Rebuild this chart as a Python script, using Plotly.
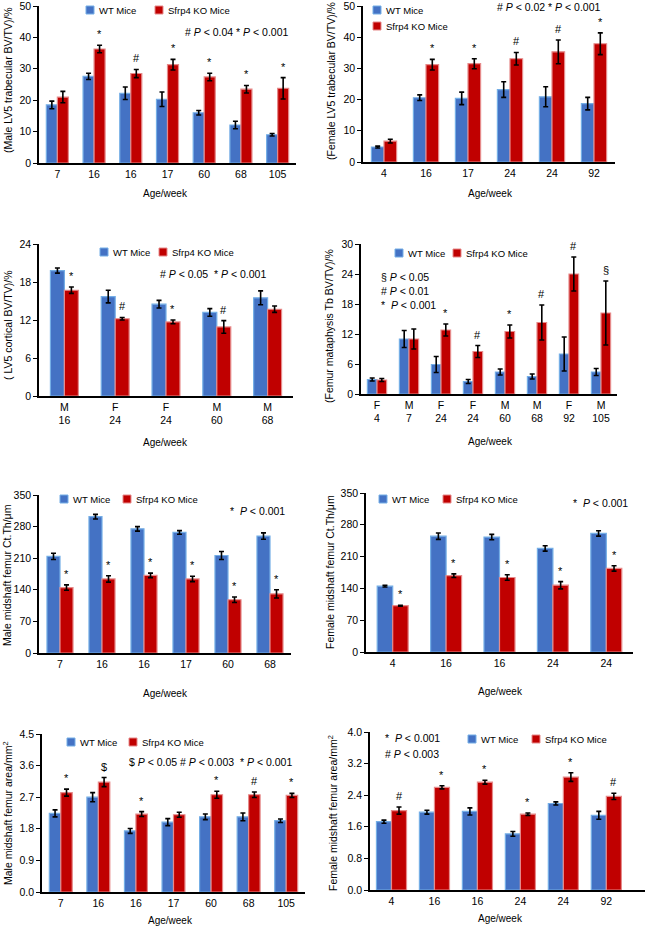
import plotly.graph_objects as go

W, H = 645, 928
FONT = "Liberation Sans, Arial, Helvetica, sans-serif"
WT_COLOR, WT_EDGE = "#4472C4", "#74AEE6"
KO_COLOR, KO_EDGE = "#C00000", "#E68A8A"
WT_NAME, KO_NAME = "WT Mice", "Sfrp4 KO Mice"

# ---------------- data ----------------
# A: male LV5 trabecular BV/TV
a_ages = ["7", "16", "16", "17", "60", "68", "105"]
a_wt = [18.5, 27.6, 22.2, 20.3, 16.0, 12.1, 9.0]
a_wt_err = [1.2, 1.0, 2.0, 2.3, 0.7, 1.2, 0.4]
a_ko = [21.0, 36.3, 28.5, 31.3, 27.4, 23.5, 23.8]
a_ko_err = [1.8, 1.2, 1.3, 1.7, 1.2, 1.2, 3.4]
a_sig = ["", "*", "#", "*", "*", "*", "*"]

# B: female LV5 trabecular BV/TV
b_ages = ["4", "16", "17", "24", "24", "92"]
b_wt = [4.8, 20.6, 20.4, 23.2, 20.9, 18.7]
b_wt_err = [0.3, 0.9, 2.0, 2.5, 3.2, 2.0]
b_ko = [6.7, 31.2, 31.5, 33.1, 35.3, 37.9]
b_ko_err = [0.6, 1.7, 1.6, 2.0, 3.8, 3.5]
b_sig = ["", "*", "*", "#", "#", "*"]

# C: LV5 cortical BV/TV
c_sex = ["M", "F", "F", "M", "M"]
c_ages = ["16", "24", "24", "60", "68"]
c_wt = [19.8, 15.7, 14.5, 13.2, 15.5]
c_wt_err = [0.4, 1.0, 0.6, 0.6, 1.1]
c_ko = [16.7, 12.2, 11.7, 10.9, 13.7]
c_ko_err = [0.5, 0.2, 0.3, 1.0, 0.5]
c_sig = ["*", "#", "*", "#", ""]

# D: femur metaphysis Tb BV/TV
d_sex = ["F", "M", "F", "F", "M", "M", "F", "M"]
d_ages = ["4", "7", "24", "24", "60", "68", "92", "105"]
d_wt = [2.9, 11.0, 5.9, 2.5, 4.4, 3.5, 8.0, 4.4]
d_wt_err = [0.3, 1.7, 1.6, 0.4, 0.6, 0.5, 3.4, 0.7]
d_ko = [2.8, 11.0, 12.8, 8.5, 12.5, 14.3, 24.0, 16.2]
d_ko_err = [0.3, 2.0, 1.2, 1.2, 1.3, 3.5, 3.4, 6.4]
d_sig = ["", "", "*", "#", "*", "#", "#", "§"]

# E: male midshaft femur Ct.Th
e_ages = ["7", "16", "16", "17", "60", "68"]
e_wt = [214, 302, 275, 267, 216, 259]
e_wt_err = [7, 5, 5, 4, 9, 7]
e_ko = [145, 164, 172, 164, 118, 131]
e_ko_err = [6, 7, 5, 6, 6, 9]
e_sig = ["*", "*", "*", "*", "*", "*"]

# F: female midshaft femur Ct.Th
f_ages = ["4", "16", "16", "24", "24"]
f_wt = [145, 255, 253, 228, 261]
f_wt_err = [2, 7, 6, 6, 6]
f_ko = [102, 168, 164, 147, 184]
f_ko_err = [1, 4, 6, 8, 6]
f_sig = ["*", "*", "*", "*", "*"]

# G: male midshaft femur area
g_ages = ["7", "16", "16", "17", "60", "68", "105"]
g_wt = [2.24, 2.70, 1.74, 1.99, 2.14, 2.14, 2.03]
g_wt_err = [0.10, 0.13, 0.07, 0.10, 0.08, 0.11, 0.05]
g_ko = [2.83, 3.13, 2.22, 2.20, 2.77, 2.77, 2.75]
g_ko_err = [0.10, 0.13, 0.07, 0.07, 0.10, 0.08, 0.06]
g_sig = ["*", "$", "*", "", "*", "#", "*"]

# H: female midshaft femur area
h_ages = ["4", "16", "16", "24", "24", "92"]
h_wt = [1.73, 1.97, 1.99, 1.42, 2.19, 1.89]
h_wt_err = [0.04, 0.05, 0.09, 0.06, 0.04, 0.10]
h_ko = [2.01, 2.60, 2.73, 1.92, 2.86, 2.37]
h_ko_err = [0.09, 0.04, 0.05, 0.03, 0.11, 0.08]
h_sig = ["#", "*", "*", "*", "*", "#"]

# ---------------- layout configs (pixel positions) ----------------
panels = [
    dict(ages=a_ages, sex=None, wt=a_wt, wte=a_wt_err, ko=a_ko, koe=a_ko_err, sig=a_sig,
         ytitle="(Male LV5 trabecular BV/TV)/%", yr=[0, 50], dt=10, fmt="",
         box=(39, 296, 6, 163), xpad=0, bw=0.6, yt=(8, 80), xt=(165, 193),
         notes=[("# <i>P</i> < 0.04 * <i>P</i> < 0.001", 237, 32, "center")],
         leg=[(90, 10), (159, 10)]),
    dict(ages=b_ages, sex=None, wt=b_wt, wte=b_wt_err, ko=b_ko, koe=b_ko_err, sig=b_sig,
         ytitle="(Female LV5 trabecular BV/TV)/%", yr=[0, 50], dt=10, fmt="",
         box=(363, 615, 6, 162), xpad=0, bw=0.6, yt=(331, 81), xt=(490, 193),
         notes=[("# <i>P</i> < 0.02 * <i>P</i> < 0.001", 549, 7, "center")],
         leg=[(377, 10), (377, 26)]),
    dict(ages=c_ages, sex=c_sex, wt=c_wt, wte=c_wt_err, ko=c_ko, koe=c_ko_err, sig=c_sig,
         ytitle="( LV5 cortical BV/TV)/%", yr=[0, 24], dt=6, fmt="",
         box=(39, 293, 244, 396), xpad=0, bw=0.55, yt=(8, 325), xt=(165, 443),
         notes=[("# <i>P</i> < 0.05  * <i>P</i> < 0.001", 213, 274, "center")],
         leg=[(104, 252), (163, 252)]),
    dict(ages=d_ages, sex=d_sex, wt=d_wt, wte=d_wt_err, ko=d_ko, koe=d_ko_err, sig=d_sig,
         ytitle="(Femur mataphysis Tb BV/TV)/%", yr=[0, 30], dt=6, fmt="",
         box=(361, 617, 244, 394), xpad=0, bw=0.6, yt=(329, 326), xt=(490, 441),
         notes=[("§ <i>P</i> < 0.05", 379, 277, "left"),
                ("# <i>P</i> < 0.01", 379, 291, "left"),
                ("*  <i>P</i> < 0.001", 379, 305, "left")],
         leg=[(399, 253), (457, 253)]),
    dict(ages=e_ages, sex=None, wt=e_wt, wte=e_wt_err, ko=e_ko, koe=e_ko_err, sig=e_sig,
         ytitle="Male midshaft femur Ct.Th/μm", yr=[0, 350], dt=70, fmt="",
         box=(39, 291, 495, 653), xpad=0, bw=0.62, yt=(7, 575), xt=(165, 693),
         notes=[("*  <i>P</i> < 0.001", 257, 511, "center")],
         leg=[(64, 499), (127, 499)]),
    dict(ages=f_ages, sex=None, wt=f_wt, wte=f_wt_err, ko=f_ko, koe=f_ko_err, sig=f_sig,
         ytitle="Female midshaft femur Ct.Th/μm", yr=[0, 350], dt=70, fmt="",
         box=(366, 633, 493, 652), xpad=0, bw=0.58, yt=(330, 572), xt=(500, 691),
         notes=[("*  <i>P</i> < 0.001", 600, 503, "center")],
         leg=[(383, 499), (447, 499)]),
    dict(ages=g_ages, sex=None, wt=g_wt, wte=g_wt_err, ko=g_ko, koe=g_ko_err, sig=g_sig,
         ytitle="Male midshaft femur area/mm<sup>2</sup>", yr=[0, 4.5], dt=0.9, fmt=".1f",
         box=(42, 305, 734, 892), xpad=0, bw=0.61, yt=(7, 813), xt=(170, 920),
         notes=[("$ <i>P</i> < 0.05 # <i>P</i> < 0.003  * <i>P</i> < 0.001", 210, 762, "center")],
         leg=[(71, 742), (133, 742)]),
    dict(ages=h_ages, sex=None, wt=h_wt, wte=h_wt_err, ko=h_ko, koe=h_ko_err, sig=h_sig,
         ytitle="Female midshaft femur area/mm<sup>2</sup>", yr=[0, 4.0], dt=0.8, fmt=".1f",
         box=(370, 645, 732, 890), xpad=0.4, bw=0.7, yt=(332, 813), xt=(500, 918),
         notes=[("*  <i>P</i> < 0.001", 383, 738, "left"),
                ("# <i>P</i> < 0.003", 383, 754, "left")],
         leg=[(472, 739), (536, 739)]),
]


def px(x):
    return x / W


def py(y):
    return 1 - y / H


fig = go.Figure()
annotations = []
shapes = []
layout = {}

for k, p in enumerate(panels, start=1):
    s = "" if k == 1 else str(k)
    n = len(p["ages"])
    xs = list(range(n))
    half = p["bw"] / 2
    fig.add_trace(go.Bar(
        x=xs, y=p["wt"], name=WT_NAME, showlegend=False, width=half, offset=-half,
        marker=dict(color=WT_COLOR, line=dict(color=WT_EDGE, width=1.2)),
        error_y=dict(type="data", array=p["wte"], color="black", thickness=1.6, width=2.5),
        xaxis="x" + s, yaxis="y" + s))
    fig.add_trace(go.Bar(
        x=xs, y=p["ko"], name=KO_NAME, showlegend=False, width=half, offset=0,
        marker=dict(color=KO_COLOR, line=dict(color=KO_EDGE, width=1.2)),
        error_y=dict(type="data", array=p["koe"], color="black", thickness=1.6, width=2.5),
        xaxis="x" + s, yaxis="y" + s))

    x0, x1, y0, y1 = p["box"]
    if p["sex"]:
        ticktext = [f"{a}<br>{b}" for a, b in zip(p["sex"], p["ages"])]
    else:
        ticktext = p["ages"]
    layout["xaxis" + s] = dict(
        domain=[px(x0), px(x1)], anchor="y" + s, range=[-0.5, n - 0.5 + p["xpad"]],
        tickmode="array", tickvals=xs, ticktext=ticktext, automargin=False,
        ticklabeloverflow="allow",
        showline=True, linecolor="black", linewidth=2, ticks="",
        showgrid=False, zeroline=False, fixedrange=True,
        tickfont=dict(size=10.5, color="black", family=FONT))
    layout["yaxis" + s] = dict(
        domain=[py(y1), py(y0)], anchor="x" + s, range=p["yr"], dtick=p["dt"], tick0=0,
        tickformat=p["fmt"], showline=True, linecolor="black", linewidth=1.6,
        ticks="outside", ticklen=4, tickwidth=1.2, tickcolor="black", automargin=False,
        ticklabeloverflow="allow",
        showgrid=False, zeroline=False, fixedrange=True,
        tickfont=dict(size=10.5, color="black", family=FONT))

    # significance marks above KO bars
    for i, m in enumerate(p["sig"]):
        if m:
            annotations.append(dict(
                x=i + half / 2, y=p["ko"][i] + p["koe"][i], xref="x" + s, yref="y" + s,
                text=m, showarrow=False, yanchor="middle", yshift=11,
                font=dict(size=11, color="black", family=FONT)))

    # y title
    annotations.append(dict(
        x=px(p["yt"][0]), y=py(p["yt"][1]), xref="paper", yref="paper",
        text=p["ytitle"], textangle=-90, showarrow=False,
        xanchor="center", yanchor="middle",
        font=dict(size=10.5, color="black", family=FONT)))
    # x title
    annotations.append(dict(
        x=px(p["xt"][0]), y=py(p["xt"][1]), xref="paper", yref="paper",
        text="Age/week", showarrow=False, xanchor="center", yanchor="middle",
        font=dict(size=10, color="black", family=FONT)))
    # p-value notes
    for txt, nx, ny, anc in p["notes"]:
        annotations.append(dict(
            x=px(nx), y=py(ny), xref="paper", yref="paper", text=txt,
            showarrow=False, xanchor=anc, yanchor="middle",
            font=dict(size=10.5, color="black", family=FONT)))
    # legend
    for (cx, cy), name, col, edge in zip(p["leg"], [WT_NAME, KO_NAME],
                                         [WT_COLOR, KO_COLOR], [WT_EDGE, KO_EDGE]):
        shapes.append(dict(
            type="rect", xref="paper", yref="paper",
            x0=px(cx - 4), x1=px(cx + 4), y0=py(cy + 4), y1=py(cy - 4),
            fillcolor=col, line=dict(color=edge, width=1)))
        annotations.append(dict(
            x=px(cx + 7), y=py(cy), xref="paper", yref="paper", text=name,
            showarrow=False, xanchor="left", yanchor="middle",
            font=dict(size=9.5, color="black", family=FONT)))

fig.update_layout(
    width=W, height=H, margin=dict(l=0, r=0, t=0, b=0, autoexpand=False),
    paper_bgcolor="white", plot_bgcolor="white",
    barmode="overlay",
    showlegend=False, annotations=annotations, shapes=shapes,
    font=dict(family=FONT, color="black"),
    **layout)

fig.write_html(
    "out.html", config={"displayModeBar": False},
    post_script="document.body.style.margin='0';document.body.style.padding='0';"
                "document.body.style.overflow='hidden';")
